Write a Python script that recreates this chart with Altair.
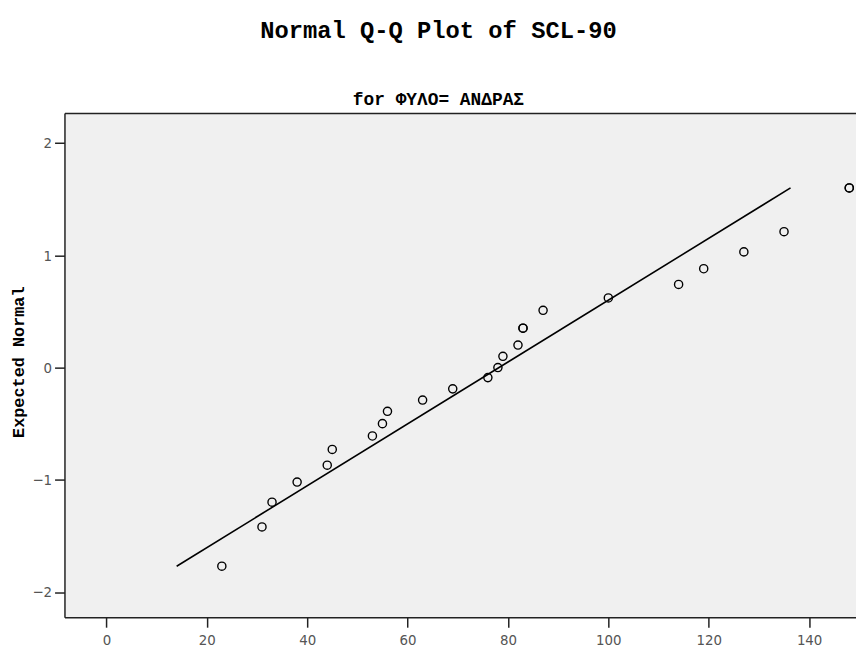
import altair as alt
import pandas as pd

# Observed SCL-90 values (two ties at 83 and at 148)
scl90 = [23, 31, 33, 38, 44, 45, 53, 55, 56, 63, 69, 76, 78, 79, 82,
         83, 83, 87, 100, 114, 119, 127, 135, 148, 148]
# Expected normal values
expected = [-1.77, -1.42, -1.20, -1.02, -0.87, -0.73, -0.61, -0.50, -0.39,
            -0.29, -0.19, -0.09, 0.00, 0.10, 0.20, 0.35, 0.35, 0.51, 0.62,
            0.74, 0.88, 1.03, 1.21, 1.60, 1.60]
# Reference line end points
line_x = [14.0, 136.3]
line_y = [-1.77, 1.60]

x_ticks = [0, 20, 40, 60, 80, 100, 120, 140]
y_ticks = [-2, -1, 0, 1, 2]
x_domain = [-8.35, 149.34]
y_domain = [-2.225, 2.267]

MONO = "Courier New, Liberation Mono, monospace"
TICKFONT = "Liberation Sans Narrow, Arial Narrow, DejaVu Sans Condensed, Liberation Sans, sans-serif"

pts = pd.DataFrame({"obs": scl90, "exp": expected})
ln = pd.DataFrame({"lx": line_x, "ly": line_y})

y_axis = alt.Axis(
    title="Expected Normal", values=y_ticks, grid=False,
    titleFont=MONO, titleFontSize=17, titleFontWeight="bold", titleColor="black",
    titleAngle=270, titleBaseline="middle", titleAlign="center",
    titleX=-46, titleY=251,
    labelPadding=3, tickSize=10,
)

line = alt.Chart(ln).mark_line(color="black", strokeWidth=1.6).encode(
    x=alt.X("lx:Q", scale=alt.Scale(domain=x_domain, nice=False, zero=False),
            axis=alt.Axis(orient="top", labels=False, ticks=False, title=None,
                          grid=False, domain=True)),
    y=alt.Y("ly:Q", scale=alt.Scale(domain=y_domain, nice=False, zero=False),
            axis=y_axis),
)

points = alt.Chart(pts).mark_point(
    shape="circle", filled=False, color="black", size=68, strokeWidth=1.4, opacity=1
).encode(
    x=alt.X("obs:Q", scale=alt.Scale(domain=x_domain, nice=False, zero=False),
            axis=alt.Axis(orient="bottom", values=x_ticks, title=None, grid=False,
                          labelPadding=5, tickSize=10)),
    y=alt.Y("exp:Q", scale=alt.Scale(domain=y_domain, nice=False, zero=False),
            axis=y_axis),
)

chart = alt.layer(line, points).resolve_axis(x="independent").properties(
    width=799, height=509,
    autosize=alt.AutoSizeParams(type="none"),
    padding={"left": 57, "top": 103, "right": 0, "bottom": 31},
    background="white",
    title=alt.TitleParams(
        text="Normal Q-Q Plot of SCL-90", subtitle="for ΦΥΛΟ= ΑΝΔΡΑΣ",
        font=MONO, fontSize=24, fontWeight="bold", color="black",
        subtitleFont=MONO, subtitleFontSize=18, subtitleFontWeight="bold",
        subtitleColor="black", anchor="middle", frame="group", dx=-22,
        offset=4, subtitlePadding=49,
    ),
).configure_view(
    fill="#f0f0f0", stroke="transparent"
).configure_axis(
    domainColor="#222222", domainWidth=1.5, tickColor="#222222", tickWidth=1.5,
    labelFont=TICKFONT, labelFontSize=15, labelColor="#555555",
)

chart.save("out.html", embed_options={"renderer": "svg", "actions": False})
